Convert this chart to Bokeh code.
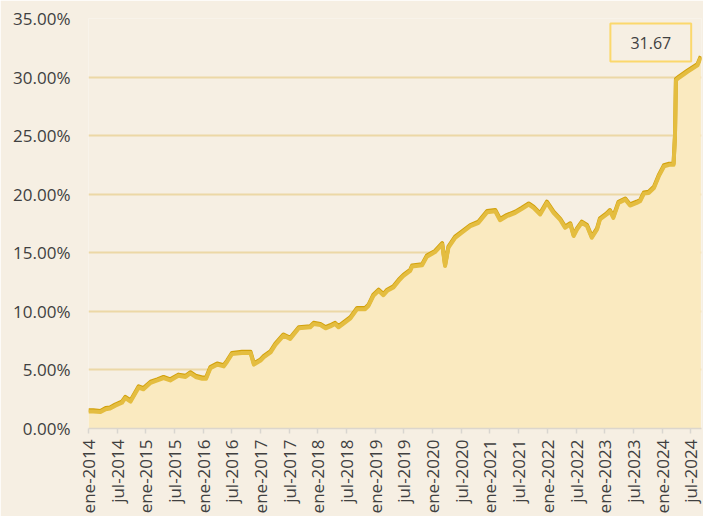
import math
from bokeh.plotting import figure
from bokeh.models import Range1d, FixedTicker, PrintfTickFormatter, Label, ColumnDataSource
from bokeh.transform import dodge
from bokeh.embed import file_html
from bokeh.resources import INLINE

# ---- data ----
dates = [
    "2014-01-01", "2014-02-01", "2014-03-16", "2014-04-19", "2014-05-16", "2014-06-19",
    "2014-08-01", "2014-08-22", "2014-09-25", "2014-11-16", "2014-12-16", "2015-02-01",
    "2015-03-13", "2015-04-22", "2015-06-04", "2015-07-25", "2015-09-10", "2015-10-10",
    "2015-11-13", "2015-12-25", "2016-01-19", "2016-02-16", "2016-03-28", "2016-05-10",
    "2016-06-01", "2016-07-01", "2016-09-04", "2016-10-28", "2016-11-19", "2017-01-01",
    "2017-01-22", "2017-03-04", "2017-04-04", "2017-05-25", "2017-07-07", "2017-09-01",
    "2017-11-13", "2017-12-04", "2018-01-16", "2018-02-19", "2018-03-19", "2018-04-19",
    "2018-05-10", "2018-06-22", "2018-07-25", "2018-09-07", "2018-10-28", "2018-11-19",
    "2018-12-19", "2019-01-22", "2019-02-22", "2019-03-16", "2019-04-25", "2019-05-28",
    "2019-06-28", "2019-08-10", "2019-08-22", "2019-10-25", "2019-11-25", "2020-01-16",
    "2020-03-01", "2020-03-19", "2020-04-10", "2020-05-22", "2020-07-04", "2020-08-28",
    "2020-10-19", "2020-12-13", "2021-02-04", "2021-03-04", "2021-04-16", "2021-06-10",
    "2021-07-22", "2021-09-04", "2021-10-04", "2021-11-16", "2021-12-28", "2022-02-10",
    "2022-03-22", "2022-04-22", "2022-05-25", "2022-06-16", "2022-07-07", "2022-08-07",
    "2022-09-10", "2022-10-10", "2022-11-13", "2022-12-01", "2023-01-13", "2023-02-04",
    "2023-02-25", "2023-03-28", "2023-05-10", "2023-06-10", "2023-07-22", "2023-08-13",
    "2023-09-07", "2023-10-07", "2023-11-10", "2023-12-10", "2024-01-13", "2024-02-16",
    "2024-03-13", "2024-03-22", "2024-03-28", "2024-04-19", "2024-06-10", "2024-08-13",
    "2024-09-04",
]
values = [
    1.45, 1.45, 1.40, 1.65, 1.70, 1.95,
    2.20, 2.60, 2.30, 3.50, 3.35, 3.90,
    4.10, 4.30, 4.10, 4.50, 4.40, 4.70,
    4.40, 4.25, 4.25, 5.15, 5.45, 5.30,
    5.70, 6.35, 6.45, 6.45, 5.45, 5.80,
    6.10, 6.50, 7.14, 7.93, 7.65, 8.55,
    8.64, 8.92, 8.83, 8.55, 8.72, 8.92,
    8.64, 9.06, 9.40, 10.19, 10.19, 10.48,
    11.32, 11.75, 11.38, 11.75, 12.04, 12.60,
    13.02, 13.45, 13.82, 13.93, 14.67, 15.06,
    15.72, 13.87, 15.43, 16.28, 16.71, 17.27,
    17.56, 18.46, 18.55, 17.78, 18.12, 18.41,
    18.75, 19.11, 18.83, 18.27, 19.26, 18.41,
    17.80, 17.13, 17.42, 16.43, 16.99, 17.56,
    17.27, 16.28, 16.99, 17.84, 18.27, 18.55,
    17.98, 19.26, 19.54, 19.03, 19.26, 19.40,
    20.05, 20.11, 20.53, 21.52, 22.37, 22.51,
    22.51, 24.92, 29.73, 29.96, 30.44, 31.00,
    31.67,
]
tick_labels = [
    "ene-2014", "jul-2014", "ene-2015", "jul-2015", "ene-2016", "jul-2016",
    "ene-2017", "jul-2017", "ene-2018", "jul-2018", "ene-2019", "jul-2019",
    "ene-2020", "jul-2020", "ene-2021", "jul-2021", "ene-2022", "jul-2022",
    "ene-2023", "jul-2023", "ene-2024", "jul-2024",
]
y_ticks = [0, 5, 10, 15, 20, 25, 30, 35]

# ---- styling ----
BG = "#f6efe3"
AREA = "#faeac0"
GRID = "#ecd8a6"
LINE = "#e4bd40"
LINE_DARK = "#d2a10c"
TEXT = "#404040"
FONT = "Open Sans"


def month_index(d):
    y, m, dd = (int(t) for t in d.split("-"))
    return (y - 2014) * 12 + (m - 1) + (dd - 1) / 30.0


xs = [month_index(d) for d in dates]
src = ColumnDataSource(dict(x=xs, v=values))

p = figure(width=703, height=516, output_backend="svg", toolbar_location=None,
           x_range=Range1d(0, xs[-1] + 0.15), y_range=Range1d(0, 35),
           min_border_left=88, min_border_right=2, min_border_top=18, min_border_bottom=86)
p.background_fill_color = BG
p.border_fill_color = BG
p.outline_line_color = None

p.varea(x="x", y1=0, y2="v", source=src, fill_color=AREA)
p.line(x="x", y=dodge("v", 0.10, range=p.y_range), source=src, line_color=LINE_DARK,
       line_width=4, line_join="round")
p.line(x="x", y="v", source=src, line_color=LINE, line_width=4, line_join="round")

# x axis
tick_pos = [6 * i for i in range(len(tick_labels))]
p.xaxis.ticker = FixedTicker(ticks=tick_pos)
p.xaxis.major_label_overrides = {t: lab for t, lab in zip(tick_pos, tick_labels)}
p.xaxis.major_label_orientation = math.pi / 2
p.xaxis.major_label_text_font = FONT
p.xaxis.major_label_text_font_size = "17px"
p.xaxis.major_label_text_color = TEXT
p.xaxis.major_label_standoff = 6
p.xaxis.axis_line_color = "#dcd6cc"
p.xaxis.axis_line_width = 1.5
p.xaxis.major_tick_line_color = "#d9d6d0"
p.xaxis.major_tick_line_width = 1.5
p.xaxis.major_tick_out = 5
p.xaxis.major_tick_in = 0
p.xaxis.minor_tick_line_color = None
p.xgrid.grid_line_color = None

# y axis
p.yaxis.ticker = FixedTicker(ticks=y_ticks)
p.yaxis.formatter = PrintfTickFormatter(format="%.2f%%")
p.yaxis.major_label_text_font = FONT
p.yaxis.major_label_text_font_size = "17px"
p.yaxis.major_label_text_color = TEXT
p.yaxis.axis_line_color = None
p.yaxis.major_tick_line_color = None
p.yaxis.minor_tick_line_color = None
p.yaxis.major_tick_out = 0
p.yaxis.major_label_standoff = 18
p.ygrid.grid_line_color = GRID
p.ygrid.grid_line_width = 2

# last value annotation
lab = Label(x=xs[-1], y=values[-1], text=f"{values[-1]:.2f}", x_offset=-50, y_offset=15,
            text_align="center", text_baseline="middle", text_font=FONT,
            text_font_size="16px", text_color=TEXT,
            border_line_color="#fbd86c", border_line_width=2,
            background_fill_color=BG,
            padding=dict(left=20, right=20, top=13, bottom=13))
p.add_layout(lab)

open("out.html", "w").write(file_html(p, INLINE))
